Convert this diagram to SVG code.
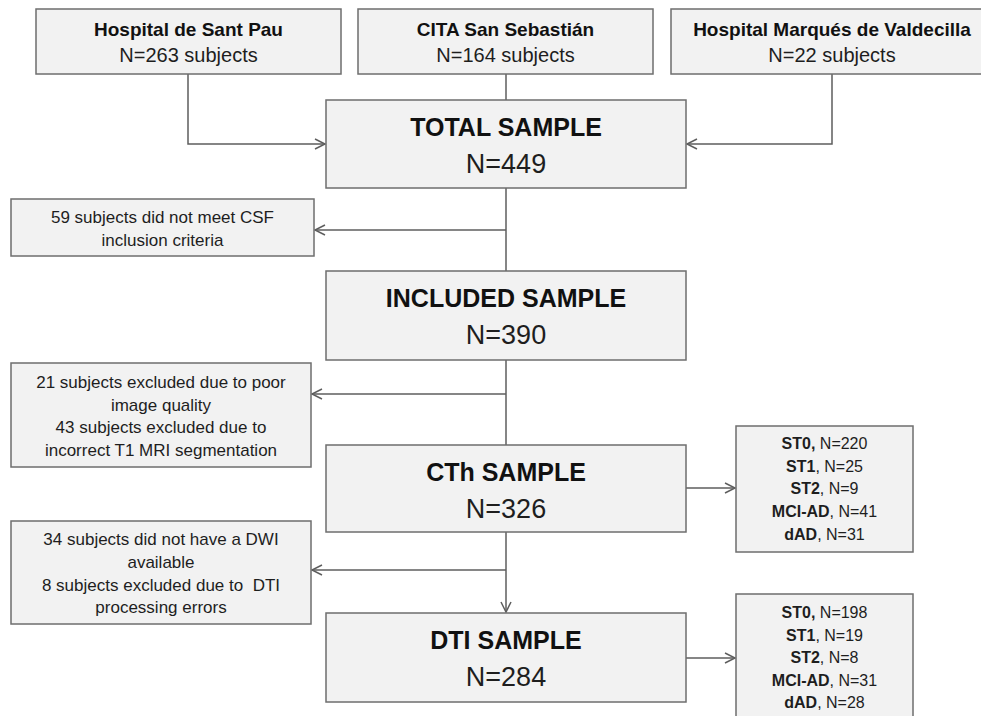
<svg xmlns="http://www.w3.org/2000/svg" width="981" height="716" viewBox="0 0 981 716">
<style>
.box{fill:#f2f2f2;stroke:#6e6e6e;stroke-width:1.5}
.ln{fill:none;stroke:#5e5e5e;stroke-width:1.5}
.t{font-family:"Liberation Sans",Arial,sans-serif;fill:#1e1e1e;text-anchor:middle}
.hb{font-size:19px;font-weight:bold;fill:#111}
.hn{font-size:20px}
.big{font-size:25px;font-weight:bold;fill:#111}
.num{font-size:27px}
.sm{font-size:17px}
.st{font-size:16px}
.b{font-weight:bold}
</style>
<defs>
<marker id="arr" markerUnits="userSpaceOnUse" markerWidth="14" markerHeight="14" viewBox="-12 -7 14 14" refX="0" refY="0" orient="auto">
<path d="M-10,-5 L0,0 L-10,5" fill="none" stroke="#5e5e5e" stroke-width="1.5"/>
</marker>
</defs>
<rect width="981" height="716" fill="#ffffff"/>
<g id="connectors">
<path class="ln" d="M188,74 V144 H325" marker-end="url(#arr)"/>
<path class="ln" d="M506,74 V100"/>
<path class="ln" d="M832,74 V144 H687" marker-end="url(#arr)"/>
<path class="ln" d="M506,188 V271"/>
<path class="ln" d="M506,230 H315" marker-end="url(#arr)"/>
<path class="ln" d="M506,360 V445"/>
<path class="ln" d="M506,394 H312" marker-end="url(#arr)"/>
<path class="ln" d="M506,532 V612" marker-end="url(#arr)"/>
<path class="ln" d="M506,570 H312" marker-end="url(#arr)"/>
<path class="ln" d="M686,488 H735" marker-end="url(#arr)"/>
<path class="ln" d="M686,658 H735" marker-end="url(#arr)"/>
</g>
<g id="santpau">
<rect class="box" x="36" y="9" width="305" height="65"/>
<text class="t hb" x="188.5" y="36">Hospital de Sant Pau</text>
<text class="t hn" x="188.5" y="62">N=263 subjects</text>
</g>
<g id="cita">
<rect class="box" x="358" y="9" width="295" height="65"/>
<text class="t hb" x="505.5" y="36">CITA San Sebastián</text>
<text class="t hn" x="505.5" y="62">N=164 subjects</text>
</g>
<g id="valdecilla">
<rect class="box" x="671" y="9" width="322" height="65"/>
<text class="t hb" x="832" y="36">Hospital Marqués de Valdecilla</text>
<text class="t hn" x="832" y="62">N=22 subjects</text>
</g>
<g id="total">
<rect class="box" x="326" y="100" width="360" height="88"/>
<text class="t big" x="506" y="136">TOTAL SAMPLE</text>
<text class="t num" x="506" y="173">N=449</text>
</g>
<g id="csf">
<rect class="box" x="11" y="199" width="303" height="57"/>
<text class="t sm" x="162.5" y="223">59 subjects did not meet CSF</text>
<text class="t sm" x="162.5" y="245.5">inclusion criteria</text>
</g>
<g id="included">
<rect class="box" x="326" y="271" width="360" height="89"/>
<text class="t big" x="506" y="307">INCLUDED SAMPLE</text>
<text class="t num" x="506" y="344">N=390</text>
</g>
<g id="excl-image">
<rect class="box" x="11" y="363" width="300" height="104"/>
<text class="t sm" x="161" y="388">21 subjects excluded due to poor</text>
<text class="t sm" x="161" y="410.5">image quality</text>
<text class="t sm" x="161" y="433">43 subjects excluded due to</text>
<text class="t sm" x="161" y="455.5">incorrect T1 MRI segmentation</text>
</g>
<g id="cth">
<rect class="box" x="326" y="445" width="360" height="87"/>
<text class="t big" x="506" y="481">CTh SAMPLE</text>
<text class="t num" x="506" y="518">N=326</text>
</g>
<g id="cth-groups">
<rect class="box" x="736" y="426" width="177" height="126"/>
<text class="t st" x="824.5" y="449"><tspan class="b">ST0,</tspan> N=220</text>
<text class="t st" x="824.5" y="471.7"><tspan class="b">ST1</tspan>, N=25</text>
<text class="t st" x="824.5" y="494.4"><tspan class="b">ST2</tspan>, N=9</text>
<text class="t st" x="824.5" y="517"><tspan class="b">MCI-AD</tspan>, N=41</text>
<text class="t st" x="824.5" y="539.8"><tspan class="b">dAD</tspan>, N=31</text>
</g>
<g id="excl-dwi">
<rect class="box" x="11" y="521" width="300" height="103"/>
<text class="t sm" x="161" y="545">34 subjects did not have a DWI</text>
<text class="t sm" x="161" y="567.5">available</text>
<text class="t sm" x="161" y="590.5" xml:space="preserve">8 subjects excluded due to  DTI</text>
<text class="t sm" x="161" y="613">processing errors</text>
</g>
<g id="dti">
<rect class="box" x="326" y="613" width="360" height="89"/>
<text class="t big" x="506" y="649">DTI SAMPLE</text>
<text class="t num" x="506" y="686">N=284</text>
</g>
<g id="dti-groups">
<rect class="box" x="736" y="594" width="177" height="128"/>
<text class="t st" x="824.5" y="618"><tspan class="b">ST0,</tspan> N=198</text>
<text class="t st" x="824.5" y="640.5"><tspan class="b">ST1</tspan>, N=19</text>
<text class="t st" x="824.5" y="663"><tspan class="b">ST2</tspan>, N=8</text>
<text class="t st" x="824.5" y="685.5"><tspan class="b">MCI-AD</tspan>, N=31</text>
<text class="t st" x="824.5" y="708"><tspan class="b">dAD</tspan>, N=28</text>
</g>
</svg>
